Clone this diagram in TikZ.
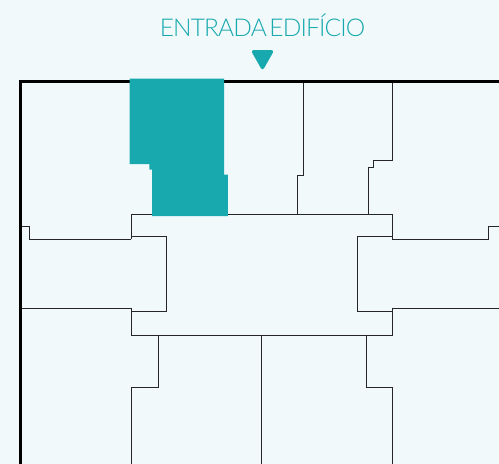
\documentclass[tikz,border=0pt]{standalone}
\usepackage{fontspec}
\newfontfamily\titlefont[LetterSpace=-3.5,WordSpace=0.45]{Lato Light}
\definecolor{tealfill}{HTML}{18A9AE}
\definecolor{pagebg}{HTML}{F2F9FB}
\definecolor{wallcol}{HTML}{262626}
\begin{document}
\begin{tikzpicture}[
		x=1pt,y=-1pt,
		wall/.style={draw=wallcol,line width=1pt,line join=miter},
		outer/.style={draw=black,line width=3pt,line join=miter},
		room/.style={fill=tealfill},
		pointer/.style={fill=tealfill,draw=tealfill,line width=1pt,rounded corners=2.5pt}
	]
	\fill[pagebg] (0,0) rectangle (499,464);
	\useasboundingbox (0,0) rectangle (499,464);

	\node[text=tealfill,font=\titlefont\fontsize{24.5}{27}\selectfont,inner sep=0pt,anchor=base] (title) at (262.5,36) {ENTRADA EDIFÍCIO};
	\filldraw[pointer] (251.5,50.5) -- (273.5,50.5) -- (262.5,70) -- cycle;

	% inner walls
	\draw[wall] (131,214) -- (393,214);
	\draw[wall] (303.7,81) -- (303.7,175.7) -- (297.7,175.7) -- (297.7,214);
	\draw[wall] (392.8,81) -- (392.8,160.3) -- (373,160.3) -- (373,167.7) -- (368.7,167.7) -- (368.7,214);
	\draw[wall] (20.5,226.7) -- (29.7,226.7) -- (29.7,239.3) -- (131,239.3);
	\draw[wall] (131,214) -- (131,239.3);
	\draw[wall] (131,236.7) -- (166.3,236.7) -- (166.3,311) -- (131,311);
	\draw[wall] (20.5,308.7) -- (131,308.7) -- (131,335.3) -- (392.8,335.3) -- (392.8,308.7) -- (499,308.7);
	\draw[wall] (392.8,214) -- (392.8,239.3) -- (488.7,239.3) -- (488.7,226.7) -- (499,226.7);
	\draw[wall] (392.8,236.7) -- (357.3,236.7) -- (357.3,311) -- (392.8,311);
	\draw[wall] (158.3,335.3) -- (158.3,387.7) -- (131,387.7) -- (131,464);
	\draw[wall] (261,335.3) -- (261,464);
	\draw[wall] (366,335.3) -- (366,387.7) -- (392.8,387.7) -- (392.8,464);

	% outer wall and the marked unit
	\draw[outer] (20.5,464) -- (20.5,81) -- (499,81);
	\fill[room] (129.5,78.5) -- (224,78.5) -- (224,174.5) -- (227.8,174.5) -- (227.8,216) -- (152,216) -- (152,169.5) -- (149.3,169.5) -- (149.3,164) -- (129.5,164) -- cycle;
\end{tikzpicture}
\end{document}
